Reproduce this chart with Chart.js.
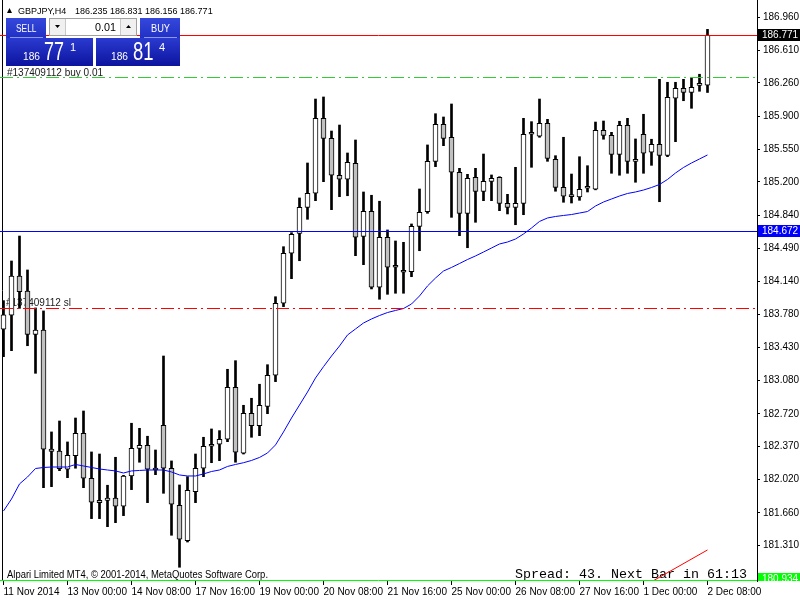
<!DOCTYPE html>
<html>
<head>
<meta charset="utf-8">
<title>GBPJPY,H4</title>
<script src="https://cdn.jsdelivr.net/npm/chart.js@4.4.1/dist/chart.umd.min.js"></script>
<style>
    html, body { margin: 0; padding: 0; background: #fff; }
    #wrap { width: 800px; height: 600px; }
</style>
</head>
<body>
<div id="wrap"><canvas id="priceChart" width="800" height="600"></canvas></div>
<script>
// --- CANDLES (GBPJPY H4) ---
const opens = [
    183.624, 183.774, 184.194, 184.033, 183.570, 183.616, 182.344, 182.322, 182.127, 182.272,
    182.512, 182.031, 181.795, 181.795, 181.820, 181.731, 182.055, 182.351, 182.383, 182.138,
    182.597, 182.138, 181.742, 181.363, 181.887, 182.138, 182.373, 182.394, 182.448, 183.004,
    182.298, 182.726, 182.593, 182.800, 183.132, 183.902, 184.437, 184.650, 184.928, 185.078,
    185.880, 185.666, 185.271, 185.228, 185.399, 184.618, 184.886, 184.073, 184.608, 184.290,
    184.237, 184.240, 184.725, 184.881, 185.420, 185.816, 185.677, 185.303, 184.864, 185.249,
    185.099, 185.206, 185.249, 184.971, 184.928, 184.971, 185.709, 185.688, 185.827, 185.442,
    185.142, 185.046, 185.039, 185.132, 185.121, 185.752, 185.698, 185.495, 185.805, 185.420,
    185.709, 185.517, 185.602, 185.484, 186.094, 186.201, 186.158, 186.232, 186.235
];
const highs = [
    183.930, 184.354, 184.621, 184.258, 183.852, 183.820, 182.526, 182.643, 182.419, 182.675,
    182.750, 182.312, 182.290, 181.956, 182.255, 182.062, 182.619, 182.565, 182.480, 182.333,
    183.338, 182.216, 181.959, 182.048, 182.290, 182.469, 182.558, 182.540, 183.196, 183.288,
    182.811, 182.886, 183.036, 183.245, 183.972, 184.507, 184.657, 185.028, 185.402, 186.086,
    186.108, 185.744, 185.808, 185.509, 185.648, 185.092, 185.057, 184.993, 184.686, 184.568,
    184.554, 184.750, 185.124, 185.595, 185.929, 185.894, 186.033, 185.345, 185.281, 185.345,
    185.498, 185.274, 185.255, 185.067, 185.356, 185.880, 185.844, 186.086, 185.869, 185.480,
    185.677, 185.284, 185.469, 185.373, 185.840, 185.851, 185.730, 185.848, 185.880, 185.659,
    185.923, 185.656, 186.297, 186.265, 186.265, 186.297, 186.308, 186.351, 186.831
];
const lows = [
    183.331, 183.395, 183.848, 183.448, 183.153, 181.930, 181.941, 182.112, 182.037, 182.138,
    181.930, 181.599, 181.599, 181.513, 181.556, 181.631, 181.909, 182.202, 181.770, 182.069,
    181.870, 181.421, 181.079, 181.349, 181.770, 182.048, 182.197, 182.219, 182.422, 182.202,
    182.290, 182.469, 182.486, 182.721, 183.064, 183.866, 184.165, 184.357, 184.800, 184.999,
    185.202, 184.903, 185.042, 185.052, 184.411, 184.315, 184.055, 183.945, 183.998, 184.009,
    184.009, 184.186, 184.464, 184.864, 185.363, 185.587, 184.821, 184.625, 184.496, 184.768,
    184.999, 184.999, 184.892, 184.857, 184.742, 184.849, 185.356, 185.677, 185.420, 185.100,
    184.982, 184.974, 185.003, 185.092, 185.115, 185.656, 185.292, 185.271, 185.292, 185.196,
    185.292, 185.377, 184.988, 185.470, 185.630, 186.068, 185.987, 186.169, 186.156
];
const closes = [
    183.777, 184.194, 184.026, 183.570, 183.616, 182.341, 182.319, 182.133, 182.277, 182.512,
    182.031, 181.774, 181.770, 181.820, 181.731, 182.055, 182.351, 182.383, 182.127, 182.119,
    182.138, 181.753, 181.378, 181.902, 182.138, 182.373, 182.394, 182.448, 183.004, 182.309,
    182.726, 182.593, 182.811, 183.132, 183.902, 184.437, 184.640, 184.928, 185.078, 185.880,
    185.666, 185.271, 185.228, 185.410, 184.608, 184.886, 184.073, 184.608, 184.287, 184.287,
    184.234, 184.725, 184.875, 185.420, 185.816, 185.666, 185.303, 184.864, 185.238, 185.099,
    185.206, 185.238, 184.971, 184.928, 184.971, 185.709, 185.712, 185.827, 185.452, 185.142,
    185.046, 185.043, 185.121, 185.135, 185.752, 185.698, 185.495, 185.805, 185.420, 185.442,
    185.506, 185.602, 185.484, 186.105, 186.201, 186.158, 186.212, 186.235, 186.771
];
// moving average (blue line)
const maValues = [
    181.681, 181.809, 181.970, 182.044, 182.135, 182.146, 182.151, 182.151, 182.151, 182.178,
    182.162, 182.146, 182.130, 182.119, 182.109, 182.087, 182.109, 182.114, 182.119, 182.119,
    182.119, 182.098, 182.066, 182.055, 182.055, 182.077, 182.103, 182.119, 182.157, 182.178,
    182.197, 182.221, 182.253, 182.301, 182.387, 182.526, 182.675, 182.814, 182.953, 183.103,
    183.224, 183.338, 183.445, 183.563, 183.627, 183.691, 183.734, 183.771, 183.803, 183.825,
    183.846, 183.894, 183.980, 184.087, 184.172, 184.247, 184.285, 184.327, 184.370, 184.408,
    184.450, 184.493, 184.536, 184.557, 184.589, 184.643, 184.707, 184.777, 184.814, 184.830,
    184.841, 184.851, 184.867, 184.883, 184.942, 184.985, 185.017, 185.049, 185.076, 185.092,
    185.113, 185.140, 185.172, 185.226, 185.295, 185.354, 185.402, 185.445, 185.488
];

// --- AXES ---
const timeTickIndex = [0, 8, 16, 24, 32, 40, 48, 56, 64, 72, 80, 88];
const timeTickLabels = ['11 Nov 2014', '13 Nov 00:00', '14 Nov 08:00', '17 Nov 16:00', '19 Nov 00:00', '20 Nov 08:00',
    '21 Nov 16:00', '25 Nov 00:00', '26 Nov 08:00', '27 Nov 16:00', '1 Dec 00:00', '2 Dec 08:00'];
const priceTicks = [186.960, 186.610, 186.260, 185.900, 185.550, 185.200, 184.840, 184.490, 184.140,
    183.780, 183.430, 183.080, 182.720, 182.370, 182.020, 181.660, 181.310];

// --- LEVELS & OBJECTS ---
const orderPrice = 186.322;
const stopPrice = 183.848;
const blueLevel = 184.672;
const greenLevel = 180.934;
const trendX = [81.25, 88];
const trendY = [180.936, 181.264];

const symbolTitle = 'GBPJPY,H4';
const orderTicket = '#137409112';
const lotSize = '0.01';
const spreadPoints = 43;
const spreadText = 'Spread: ' + spreadPoints + '. Next Bar in 61:13';
const copyrightText = 'Alpari Limited MT4, \u00a9 2001-2014, MetaQuotes Software Corp.';

const lastIndex = closes.length - 1;
const bidPrice = closes[lastIndex];
const askPrice = bidPrice + spreadPoints * 0.001;

// --- HELPERS ---
function splitQuote(price) {
    const s = price.toFixed(3);           // "186.771"
    return [s.slice(0, 3), s.slice(4, 6), s.slice(6)];
}

function fitText(ctx, text, x, y, width) {
    const w = ctx.measureText(text).width;
    ctx.save();
    ctx.translate(x, y);
    ctx.scale(width / w, 1);
    ctx.fillText(text, 0, 0);
    ctx.restore();
}

function gradientBox(ctx, x, y, w, h, top, bottom) {
    const g = ctx.createLinearGradient(0, y, 0, y + h);
    g.addColorStop(0, top);
    g.addColorStop(1, bottom);
    ctx.fillStyle = g;
    ctx.fillRect(x, y, w, h);
}

function hLine(ctx, area, y, color, dash) {
    const py = Math.round(y) + 0.5;
    ctx.save();
    ctx.strokeStyle = color;
    ctx.lineWidth = 1;
    ctx.setLineDash(dash || []);
    ctx.beginPath();
    ctx.moveTo(area.left, py);
    ctx.lineTo(area.right, py);
    ctx.stroke();
    ctx.restore();
}

function priceTag(ctx, y, text, bg) {
    const py = Math.round(y);
    ctx.fillStyle = bg;
    ctx.fillRect(758, py - 6, 42, 12);
    ctx.fillStyle = '#ffffff';
    ctx.font = '10px "Liberation Sans"';
    ctx.textBaseline = 'middle';
    ctx.textAlign = 'left';
    ctx.fillText(text, 762, py + 0.5);
}

function drawTradePanel(ctx) {
    const sell = splitQuote(bidPrice);
    const buy = splitQuote(askPrice);

    // sell / buy buttons and quote boxes
    gradientBox(ctx, 6, 18, 40, 20, '#3648dc', '#2030c4');
    gradientBox(ctx, 140, 18, 40, 20, '#3648dc', '#2030c4');
    gradientBox(ctx, 6, 38, 87, 28, '#2a3ad0', '#0c149e');
    gradientBox(ctx, 96, 38, 84, 28, '#2a3ad0', '#0c149e');

    ctx.strokeStyle = '#8c98f0';
    ctx.lineWidth = 1;
    ctx.beginPath();
    ctx.moveTo(10, 37.5); ctx.lineTo(43, 37.5);
    ctx.moveTo(144, 37.5); ctx.lineTo(177, 37.5);
    ctx.stroke();

    // lot size box
    ctx.fillStyle = '#f0f0f0';
    ctx.fillRect(49, 18, 88, 18);
    ctx.strokeStyle = '#a0a0a0';
    ctx.strokeRect(49.5, 18.5, 87, 17);
    ctx.fillStyle = '#ffffff';
    ctx.fillRect(66, 19, 54, 16);
    ctx.strokeStyle = '#c8c8c8';
    ctx.beginPath();
    ctx.moveTo(65.5, 19); ctx.lineTo(65.5, 35);
    ctx.moveTo(120.5, 19); ctx.lineTo(120.5, 35);
    ctx.stroke();
    ctx.fillStyle = '#000000';
    ctx.beginPath();
    ctx.moveTo(55, 25); ctx.lineTo(60, 25); ctx.lineTo(57.5, 28); ctx.closePath();
    ctx.moveTo(126, 28); ctx.lineTo(131, 28); ctx.lineTo(128.5, 25); ctx.closePath();
    ctx.fill();

    ctx.textBaseline = 'alphabetic';
    ctx.textAlign = 'left';
    ctx.font = '10.5px "Liberation Sans"';
    fitText(ctx, lotSize, 95, 31, 21);

    ctx.fillStyle = '#ffffff';
    fitText(ctx, 'SELL', 16, 31.5, 20.5);
    fitText(ctx, 'BUY', 151, 31.5, 19);

    // quotes: big figure, pips, last digit
    ctx.font = '10.5px "Liberation Sans"';
    fitText(ctx, sell[0], 23, 60, 17);
    fitText(ctx, buy[0], 111, 60, 17);
    ctx.font = '25px "Liberation Sans"';
    fitText(ctx, sell[1], 44, 60, 20);
    fitText(ctx, buy[1], 133, 60, 20.5);
    ctx.font = '11px "Liberation Sans"';
    ctx.fillText(sell[2], 70, 51);
    ctx.fillText(buy[2], 159, 51);
}

// --- OVERLAY PLUGIN (MT4 objects) ---
const terminalOverlay = {
    id: 'terminalOverlay',
    beforeDatasetsDraw(chart) {
        const ctx = chart.ctx;
        const area = chart.chartArea;
        const y = chart.scales.y;
        ctx.save();
        ctx.strokeStyle = '#000000';
        ctx.lineWidth = 1;
        ctx.beginPath();
        ctx.moveTo(2.5, area.top);
        ctx.lineTo(2.5, area.bottom);
        ctx.stroke();

        ctx.fillStyle = '#202020';
        ctx.font = '10px "Liberation Sans"';
        ctx.textBaseline = 'alphabetic';
        ctx.fillText(orderTicket + ' sl', 6, Math.round(y.getPixelForValue(stopPrice)) - 2);
        ctx.fillText(orderTicket + ' buy ' + lotSize, 7, Math.round(y.getPixelForValue(orderPrice)) - 1);

        ctx.fillStyle = '#000000';
        ctx.font = '13.3px "Liberation Mono"';
        fitText(ctx, spreadText, 515, 578, 232);
        ctx.restore();
    },
    afterDatasetsDraw(chart) {
        const ctx = chart.ctx;
        const area = chart.chartArea;
        const y = chart.scales.y;
        hLine(ctx, area, y.getPixelForValue(bidPrice), '#ff0000');
        hLine(ctx, area, y.getPixelForValue(orderPrice), '#32cd32', [13, 4, 2, 4]);
        hLine(ctx, area, y.getPixelForValue(blueLevel), '#0000ff');
        hLine(ctx, area, y.getPixelForValue(stopPrice), '#ff0000', [13, 4, 2, 4]);
        hLine(ctx, area, y.getPixelForValue(greenLevel) - 0.5, '#00ff00');
    },
    afterDraw(chart) {
        const ctx = chart.ctx;
        const area = chart.chartArea;
        const y = chart.scales.y;
        ctx.save();

        // header
        ctx.fillStyle = '#000000';
        ctx.beginPath();
        ctx.moveTo(7, 13); ctx.lineTo(12, 13); ctx.lineTo(9.5, 8); ctx.closePath();
        ctx.fill();
        ctx.font = '9px "Liberation Sans"';
        ctx.textBaseline = 'alphabetic';
        ctx.fillText(symbolTitle, 18, 13.5);
        const ohlc = [opens, highs, lows, closes].map(a => a[lastIndex].toFixed(3)).join(' ');
        ctx.fillText(ohlc, 75, 13.5);

        drawTradePanel(ctx);

        // copyright
        ctx.fillStyle = '#000000';
        ctx.font = '10px "Liberation Sans"';
        ctx.textBaseline = 'alphabetic';
        fitText(ctx, copyrightText, 7, 578, 261);

        // price tags on the right scale
        priceTag(ctx, y.getPixelForValue(bidPrice), bidPrice.toFixed(3), '#000000');
        priceTag(ctx, y.getPixelForValue(blueLevel), blueLevel.toFixed(3), '#0000ff');
        ctx.beginPath();
        ctx.rect(757, 0, 43, area.bottom);
        ctx.clip();
        priceTag(ctx, y.getPixelForValue(greenLevel) - 2, greenLevel.toFixed(3), '#00ff00');
        ctx.restore();
    }
};

// --- CHART ---
Chart.defaults.font.family = '"Liberation Sans", Arial, sans-serif';
Chart.defaults.font.size = 10;
Chart.defaults.color = '#000000';

const candleIdx = closes.map((_, i) => i);
const wickData = candleIdx.map(i => ({ x: i, y: [lows[i], highs[i]] }));
const bodyData = candleIdx.map(i => ({ x: i, y: [opens[i], closes[i]] }));
const bodyColors = candleIdx.map(i => closes[i] >= opens[i] ? '#ffffff' : '#c0c0c0');
const maData = candleIdx.map(i => ({ x: i, y: maValues[i] }));
const trendData = trendX.map((x, i) => ({ x: x, y: trendY[i] }));

new Chart(document.getElementById('priceChart'), {
    type: 'bar',
    data: {
        datasets: [
            { type: 'bar', data: wickData, backgroundColor: '#000000', borderWidth: 0,
              barThickness: 2, grouped: false, order: 3 },
            { type: 'bar', data: bodyData, backgroundColor: bodyColors, borderColor: '#000000',
              borderWidth: 1, borderSkipped: false, barThickness: 5, minBarLength: 2, grouped: false, order: 2 },
            { type: 'line', data: maData, borderColor: '#0000ff', borderWidth: 1,
              pointRadius: 0, tension: 0, order: 1 },
            { type: 'line', data: trendData, borderColor: '#ff0000', borderWidth: 1,
              pointRadius: 0, order: 0 }
        ]
    },
    options: {
        responsive: false,
        animation: false,
        events: [],
        devicePixelRatio: 1,
        layout: { padding: 0 },
        plugins: { legend: { display: false }, tooltip: { enabled: false } },
        scales: {
            x: {
                type: 'linear',
                min: -0.4375,
                max: 94.1875,
                offset: false,
                grid: { offset: false, drawOnChartArea: false, drawTicks: true, tickLength: 4, color: '#000000' },
                border: { display: false },
                ticks: {
                    autoSkip: false, maxRotation: 0, align: 'start', padding: 1,
                    callback: (v, idx) => timeTickLabels[idx]
                },
                afterBuildTicks: s => { s.ticks = timeTickIndex.map(v => ({ value: v })); },
                afterFit: s => { s.height = 19; s.paddingLeft = 0; s.paddingRight = 0; }
            },
            y: {
                type: 'linear',
                position: 'right',
                min: 180.932,
                max: 187.145,
                grid: { drawOnChartArea: false, drawTicks: true, tickLength: 3, color: '#000000' },
                border: { display: true, color: '#000000' },
                ticks: { padding: 3, callback: v => v.toFixed(3) },
                afterBuildTicks: s => { s.ticks = priceTicks.map(v => ({ value: v })); },
                afterFit: s => { s.width = 43; s.paddingTop = 0; s.paddingBottom = 0; }
            }
        }
    },
    plugins: [terminalOverlay]
});
</script>
</body>
</html>
